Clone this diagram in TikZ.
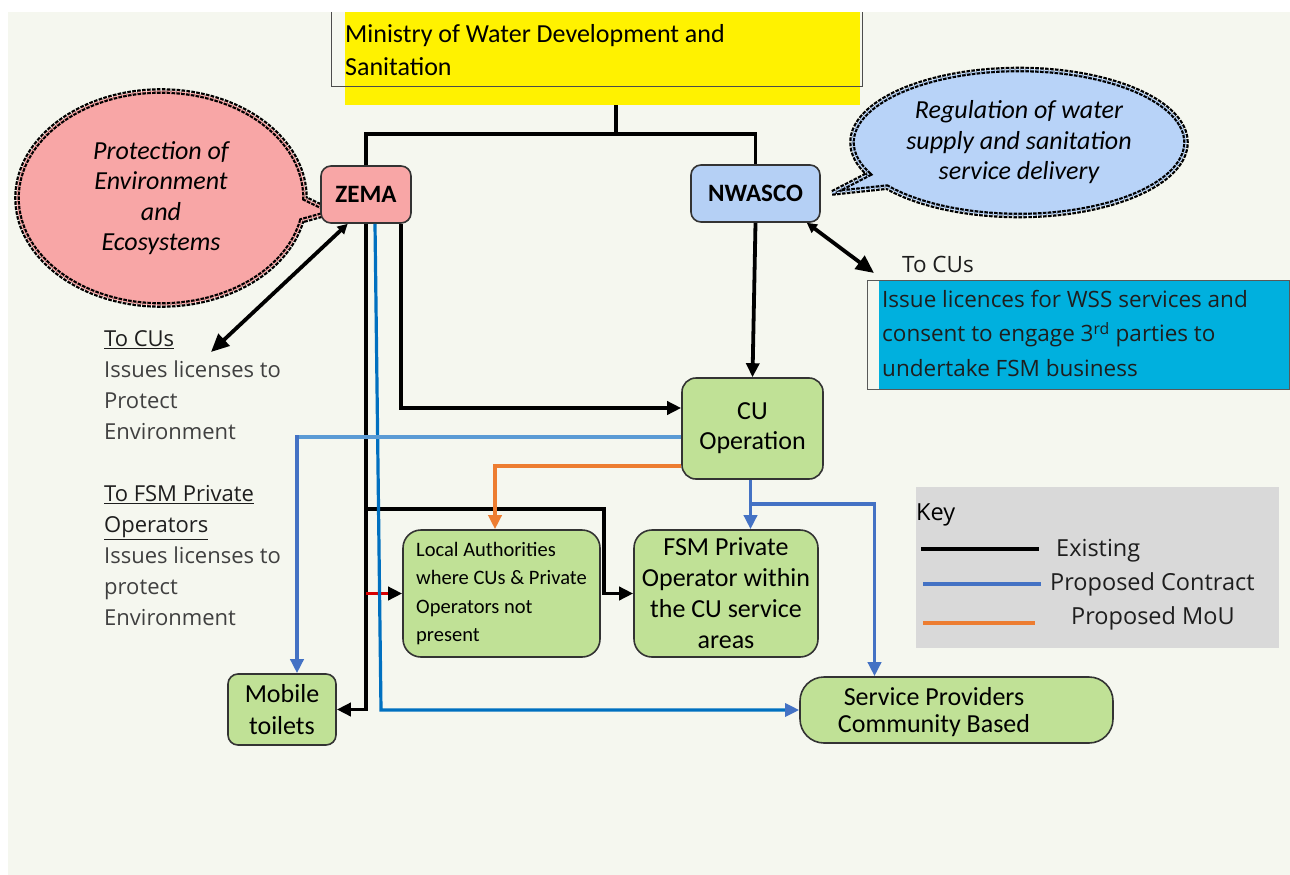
\documentclass[tikz,border=0pt]{standalone}
\usepackage{fontspec}
\setmainfont{Carlito}
\newfontfamily\osans{Open Sans}
\usetikzlibrary{arrows.meta,shapes.callouts,calc}
\definecolor{bg}{HTML}{F5F7EF}
\definecolor{pinkc}{HTML}{F8A6A6}
\definecolor{bluebub}{HTML}{B8D3F8}
\definecolor{nwfill}{HTML}{B5D0F5}
\definecolor{greenc}{HTML}{C0E196}
\definecolor{cyanc}{HTML}{00B0DE}
\definecolor{keygray}{HTML}{D9D9D9}
\definecolor{orangec}{HTML}{ED7D31}
\definecolor{bluec}{HTML}{4472C4}
\definecolor{brightblue}{HTML}{0070C0}
\definecolor{lightblue}{HTML}{5B9BD5}
\definecolor{boxline}{HTML}{333333}
\definecolor{txtgray}{HTML}{404040}
\definecolor{txtdark}{HTML}{1E1E1E}
\newcommand\myfs[2]{\fontsize{#1pt}{#2pt}\selectfont}
\begin{document}
\begin{tikzpicture}[x=1pt,y=-1pt,
  box/.style={draw=boxline,line width=1.6pt,rounded corners=10pt,inner sep=0pt,align=center},
  bk/.style={draw=black,line width=3.8pt},
  bl/.style={draw=bluec,line width=3.5pt},
  blz/.style={draw=brightblue,line width=3.2pt},
  lbl/.style={draw=lightblue,line width=3.2pt},
  og/.style={draw=orangec,line width=3.4pt},
  tipA/.style={-{Triangle[length=14pt,width=13pt]}},
  tipB/.style={-{Triangle[length=14pt,width=13pt,color=bluec]}},
  tipO/.style={-{Triangle[length=14pt,width=13pt,color=orangec]}},
  bigtwo/.style={{Triangle[length=10pt,width=10pt]}-{Triangle[length=18pt,width=16pt]}},
  bubble/.style={ellipse callout,draw=black,double distance=1.2pt,line width=2.2pt,
    dash pattern=on 3.6pt off 1.3pt,inner sep=0pt,align=center,font=\itshape\myfs{26}{30.5},
    callout pointer arc=12},
  keytxt/.style={anchor=base west,inner sep=0pt,font=\osans\myfs{23.5}{28},text=txtdark}
]
\useasboundingbox (0,0) rectangle (1290,875);
\fill[white] (0,0) rectangle (1290,875);
\fill[bg] (8,12) rectangle (1290,875);

% Ministry
\node[fill=yellow,minimum width=515pt,minimum height=93pt,inner sep=0pt] (min) at (602.5,58.5) {};
\draw[draw=gray!60!black,line width=1pt] (331,12) |- (862,86) -- (862,12);
\node[anchor=north west,inner sep=0pt,align=left,font=\myfs{26}{33}] (mint) at (345,24)
  {Ministry of Water Development and\\Sanitation};

% bubbles
\node[bubble,double=pinkc,fill=pinkc,minimum width=288pt,minimum height=214pt,
  callout absolute pointer={(333,212)}] (pb) at (161,198)
  {Protection of\\Environment\\and\\Ecosystems};
\node[bubble,double=bluebub,fill=bluebub,minimum width=334pt,minimum height=146pt,
  callout absolute pointer={(832,193)}] (bb) at (1019,142.5)
  {Regulation of water\\supply and sanitation\\service delivery};

% main boxes
\node[box,fill=pinkc,minimum width=90pt,minimum height=57pt,font=\bfseries\myfs{25}{30}] (ZEMA) at (366,194.5) {ZEMA};
\node[box,fill=nwfill,minimum width=129pt,minimum height=57pt,font=\bfseries\myfs{25}{30}] (NW) at (755.5,193.5) {NWASCO};
\node[box,fill=greenc,rounded corners=14pt,minimum width=141pt,minimum height=101pt,font=\myfs{26}{30}] (CU) at (752.5,428.5) {CU\\Operation};
\node[box,fill=greenc,rounded corners=18pt,minimum width=197pt,minimum height=127pt,align=left,font=\myfs{20.5}{28.5}] (LA) at (501.5,593.5)
  {Local Authorities\\where CUs \& Private\\Operators not\\present};
\node[box,fill=greenc,rounded corners=18pt,minimum width=184pt,minimum height=127pt,font=\myfs{26}{31}] (FSM) at (726,593.5)
  {FSM Private\\Operator within\\the CU service\\areas};
\node[box,fill=greenc,rounded corners=10pt,minimum width=108pt,minimum height=71pt,font=\myfs{26}{32}] (MT) at (282,709.5) {Mobile\\toilets};
\node[box,fill=greenc,rounded corners=24pt,minimum width=313pt,minimum height=66pt] (SP) at (956.5,710) {};
\node[inner sep=0pt,align=center,font=\myfs{26}{27}] (spt) at (934,712.5) {Service Providers\\Community Based};

% cyan box
\node[fill=cyanc,minimum width=410pt,minimum height=109pt,inner sep=0pt] (cy) at (1084,334.5) {};
\draw[draw=gray!70!black,line width=0.8pt] (867,280) rectangle (1289,389);
\node[anchor=north west,inner sep=0pt,align=left,font=\osans\myfs{22.5}{34.5},text=txtdark] (cyt) at (882,290)
  {Issue licences for WSS services and\\consent to engage 3\textsuperscript{rd} parties to\\undertake FSM business};
\node[anchor=base west,inner sep=0pt,font=\osans\myfs{22.5}{28},text=txtdark] (tocuR) at (902,272) {To CUs};

% left texts
\node[anchor=north west,inner sep=0pt,align=left,font=\osans\myfs{22}{31},text=txtgray] (lt) at (104,330)
  {\textcolor{txtdark}{\underline{To CUs}}\\Issues licenses to\\Protect\\Environment\\[31pt]%
   \textcolor{txtdark}{\underline{To FSM Private}}\\\textcolor{txtdark}{\underline{Operators}}\\Issues licenses to\\protect\\Environment};

% key
\node[fill=keygray,minimum width=363pt,minimum height=161pt,inner sep=0pt] (key) at (1097.5,567.5) {};
\node[keytxt,text=black] (k0) at (916,520) {Key};
\node[keytxt] (k1) at (1056,556) {Existing};
\node[keytxt] (k2) at (1050,590) {Proposed Contract};
\node[keytxt] (k3) at (1071,624) {Proposed MoU};
\draw[bk,line width=4pt] (921,549) -- (1039,549);
\draw[bl,line width=4pt] (923,584) -- (1041,584);
\draw[og,line width=4pt] (923,623) -- (1035,623);

% connectors from Ministry
\coordinate (mj) at (616,105);
\draw[bk] (mj) -- ++(0,29) coordinate (mj2);
\draw[bk] (ZEMA.north) |- (mj2) -| (NW.north);

% ZEMA to CUs
\coordinate (tocuL) at (211,352);
\draw[bk,bigtwo] ($(ZEMA.south west)!0.3!(ZEMA.south east)$) -- (tocuL);
% NWASCO to CUs
\coordinate (tocuRa) at (874,273);
\draw[bk,bigtwo] ($(NW.south east)+(-14,0)$) -- (tocuRa);

% ZEMA -> CU
\coordinate (zr) at ($(ZEMA.south west)!0.88!(ZEMA.south east)$);
\draw[bk,tipA] (zr) |- ($(CU.west)+(0,-20.5)$);
% ZEMA -> Mobile toilets
\draw[bk,tipA] (ZEMA.south) |- (MT.east);
% ZEMA -> FSM
\draw[bk,tipA] (ZEMA.south |- 0,509) -| ($(FSM.west)+(-29,0)$) -- (FSM.west);
% ZEMA -> LA (red)
\draw[draw=red!85!black,line width=3.5pt] (ZEMA.south |- LA.west) -- ++(24,0) coordinate (rd);
\draw[bk,tipA] (rd) -- (LA.west);
% ZEMA -> SP (blue)
\draw[blz,-{Triangle[length=14pt,width=13pt,color=bluec]}] ($(ZEMA.south)+(9,0)$) -- (SP.west -| 381,0) -- (SP.west);

% NWASCO -> CU
\draw[bk,tipA] (NW.south) -- (CU.north);

% CU -> Mobile toilets (light blue)
\coordinate (lbs) at ($(CU.west)+(0,8.5)$);
\coordinate (lbe) at ($(MT.north)+(15,0)$);
\draw[lbl] (lbs) -- (lbs -| lbe) coordinate (lbc);
\draw[bl,tipB] ($(lbc)+(0,-1.6)$) -- (lbe);

% CU -> LA (orange)
\draw[og,tipO] ($(CU.west)+(0,37.5)$) -| ($(LA.north)+(-6.5,0)$);

% CU -> FSM and SP (blue)
\coordinate (cus) at ($(CU.south)+(-2,0)$);
\draw[bl,tipB] (cus) -- (cus |- FSM.north);
\draw[bl,tipB] ($(cus)+(0,24)$) -| ($(SP.north)+(-82,0)$);
\end{tikzpicture}
\end{document}
